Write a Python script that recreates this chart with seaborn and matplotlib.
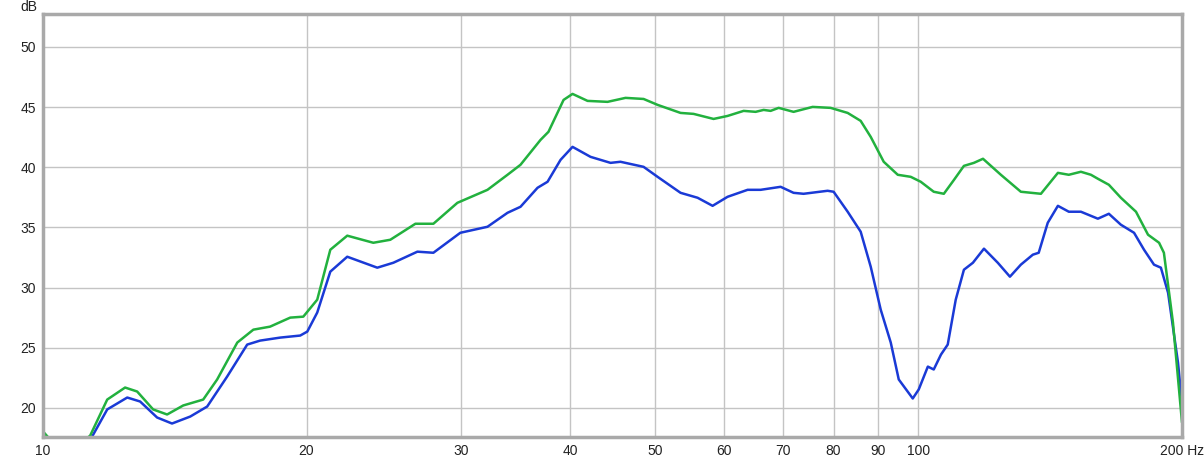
# Frequency response plot, two traces, log frequency axis 10-200 Hz

import pandas as pd
import matplotlib
matplotlib.use("Agg")
import matplotlib.pyplot as plt
import seaborn as sns

# green trace
green_hz = [10.0, 10.3, 10.7, 11.32, 11.84, 12.41, 12.81, 13.36, 13.86, 14.46, 15.24, 15.81,
            16.67, 17.39, 18.17, 19.16, 19.83, 20.57, 21.29, 22.26, 23.84, 24.93, 26.63, 27.92,
            29.74, 32.19, 33.93, 35.11, 37.01, 37.79, 39.32, 40.26, 41.88, 44.14, 46.28, 48.53,
            50.35, 53.49, 55.35, 58.34, 60.53, 63.14, 65.16, 66.55, 67.78, 69.23, 72.0, 75.7,
            79.37, 83.01, 85.9, 88.2, 91.27, 94.7, 97.99, 100.6, 104.1, 106.9, 109.8, 112.7,
            115.7, 118.5, 124.2, 130.9, 138.0, 144.3, 148.5, 153.3, 157.4, 160.3, 165.0, 170.3,
            177.2, 182.9, 188.3, 190.7, 195.3, 200.0]
green_db = [18.05, 17.0, 16.3, 17.7, 20.7, 21.7, 21.37, 19.88, 19.46, 20.21, 20.7, 22.37,
            25.44, 26.51, 26.76, 27.51, 27.59, 29.0, 33.15, 34.32, 33.73, 33.98, 35.31, 35.31,
            37.05, 38.13, 39.38, 40.21, 42.28, 42.95, 45.6, 46.1, 45.52, 45.44, 45.77, 45.68,
            45.19, 44.52, 44.44, 44.02, 44.27, 44.69, 44.61, 44.77, 44.69, 44.94, 44.61, 45.02,
            44.94, 44.52, 43.86, 42.53, 40.46, 39.38, 39.21, 38.8, 37.97, 37.8, 38.96, 40.12,
            40.37, 40.71, 39.38, 37.97, 37.8, 39.54, 39.38, 39.63, 39.38, 39.05, 38.55, 37.47,
            36.31, 34.4, 33.73, 32.9, 27.1, 18.8]

# blue trace
blue_hz = [10.0, 10.5, 11.0, 11.38, 11.84, 12.48, 12.91, 13.5, 14.04, 14.73, 15.4, 16.23,
           17.11, 17.7, 18.66, 19.67, 20.04, 20.57, 21.29, 22.26, 24.09, 25.13, 26.77, 27.92,
           29.97, 32.19, 33.93, 35.11, 36.72, 37.7, 39.01, 40.26, 42.21, 44.49, 45.67, 48.53,
           50.35, 53.49, 55.94, 58.19, 60.53, 63.8, 66.03, 69.59, 72.0, 73.92, 78.74, 80.0,
           83.01, 85.9, 88.2, 90.55, 92.97, 94.95, 98.51, 100.07, 102.5, 104.1, 106.1, 108.0,
           110.3, 112.7, 115.4, 118.8, 123.2, 127.2, 130.9, 135.1, 137.2, 140.5, 144.3, 148.5,
           153.3, 160.3, 165.0, 170.3, 176.3, 181.0, 185.8, 189.2, 192.8, 197.9, 200.0]
blue_db = [16.0, 15.0, 15.6, 17.63, 19.88, 20.87, 20.54, 19.21, 18.71, 19.29, 20.12, 22.61,
           25.27, 25.6, 25.85, 26.02, 26.35, 27.93, 31.33, 32.57, 31.66, 32.07, 32.99, 32.9,
           34.56, 35.06, 36.22, 36.72, 38.3, 38.8, 40.62, 41.7, 40.87, 40.37, 40.46, 40.04,
           39.21, 37.88, 37.47, 36.8, 37.55, 38.13, 38.13, 38.38, 37.88, 37.8, 38.05, 37.97,
           36.31, 34.65, 31.74, 28.17, 25.44, 22.37, 20.79, 21.54, 23.44, 23.2, 24.44, 25.27,
           29.0, 31.49, 32.07, 33.24, 32.07, 30.91, 31.91, 32.74, 32.9, 35.39, 36.8, 36.31,
           36.31, 35.73, 36.14, 35.23, 34.56, 33.15, 31.91, 31.66, 29.58, 23.78, 20.46]

x_ticks = [10, 20, 30, 40, 50, 60, 70, 80, 90, 100, 200]
x_tick_labels = ["10", "20", "30", "40", "50", "60", "70", "80", "90", "100", "200 Hz"]
y_ticks = [20, 25, 30, 35, 40, 45, 50]

df = pd.concat([
    pd.DataFrame({"hz": blue_hz, "db": blue_db, "trace": "blue"}),
    pd.DataFrame({"hz": green_hz, "db": green_db, "trace": "green"}),
], ignore_index=True)

sns.set_style("white")
plt.rcParams['font.family'] = ['Liberation Sans', 'DejaVu Sans']

W, H = 1204, 459
fig = plt.figure(figsize=(W / 100, H / 100), dpi=100)
ax = fig.add_axes([43 / W, (H - 437) / H, (1182 - 43) / W, (437 - 14) / H])

sns.lineplot(data=df, x="hz", y="db", hue="trace", estimator=None, sort=False,
             palette={"blue": "#1a3ad6", "green": "#22b13e"}, linewidth=1.8,
             legend=False, ax=ax)
for ln in ax.lines:
    ln.set_solid_joinstyle("round")

ax.set_xscale("log")
ax.set_xlim(10, 200)
ax.set_ylim(17.59, 52.74)
ax.set_xticks(x_ticks)
ax.set_xticklabels(x_tick_labels)
ax.xaxis.set_minor_locator(matplotlib.ticker.NullLocator())
ax.set_yticks(y_ticks)
ax.set_xlabel("")
ax.set_ylabel("")
ax.tick_params(axis="both", length=0, labelsize=10, colors="#222222", pad=5)
ax.grid(True, color="#c4c4c4", linewidth=1.0)
ax.set_axisbelow(True)

for s in ax.spines.values():
    s.set_visible(True)
    s.set_color("#a9a9a9")
    s.set_linewidth(2.5)
    s.set_zorder(5)

ax.text(-0.005, 1.0, "dB", transform=ax.transAxes, ha="right", va="bottom",
        fontsize=10, color="#222222")

fig.savefig("out.png", dpi=100)
